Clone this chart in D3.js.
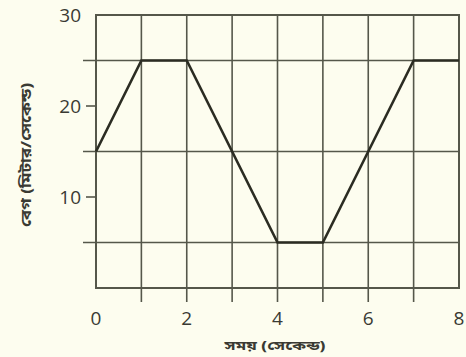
<!DOCTYPE html>
<html><head><meta charset="utf-8">
<script src="https://cdn.jsdelivr.net/npm/d3@7"></script>
<style>
html,body{margin:0;padding:0;background:#fdfdef;}
svg{display:block;}
</style></head>
<body>
<script>
const timeVals = [0, 1, 2, 4, 5, 7, 8];
const speedVals = [15, 25, 25, 5, 5, 25, 25];
const xTicks = [0, 2, 4, 6, 8];
const yTicks = [10, 20, 30];
const xGrid = [1, 2, 3, 4, 5, 6, 7];
const yGridLong = [5, 15, 25];
const yGridShort = [10, 20];
const xTitle = "সময় (সেকেন্ড)";
const yTitle = "বেগ (মিটার/সেকেন্ড)";

const W = 466, H = 357;
const m = {l: 96, r: 7, t: 15, b: 69};
const svg = d3.select("body").append("svg").attr("width", W).attr("height", H);
svg.append("rect").attr("width", W).attr("height", H).attr("fill", "#fdfdef");

const x = d3.scaleLinear().domain([0, 8]).range([m.l, W - m.r]);
const y = d3.scaleLinear().domain([0, 30]).range([H - m.b, m.t]);
const gridColor = "#55574a";

svg.selectAll(".vg").data(xGrid).join("line")
  .attr("x1", d => x(d)).attr("x2", d => x(d))
  .attr("y1", y(30)).attr("y2", y(0) + 14)
  .attr("stroke", gridColor).attr("stroke-width", 1.6);

svg.selectAll(".hg").data(yGridLong).join("line")
  .attr("x1", x(0) - 13).attr("x2", x(8))
  .attr("y1", d => y(d)).attr("y2", d => y(d))
  .attr("stroke", gridColor).attr("stroke-width", 1.6);

svg.selectAll(".ht").data(yGridShort).join("line")
  .attr("x1", x(0) - 10).attr("x2", x(0))
  .attr("y1", d => y(d)).attr("y2", d => y(d))
  .attr("stroke", gridColor).attr("stroke-width", 1.6);

svg.append("rect")
  .attr("x", x(0)).attr("y", y(30))
  .attr("width", x(8) - x(0)).attr("height", y(0) - y(30))
  .attr("fill", "none").attr("stroke", gridColor).attr("stroke-width", 2);

const line = d3.line().x((d, i) => x(timeVals[i])).y(d => y(d));
svg.append("path").datum(speedVals)
  .attr("d", line).attr("fill", "none")
  .attr("stroke", "#2b2c22").attr("stroke-width", 2.6)
  .attr("stroke-linejoin", "miter");

svg.selectAll(".xl").data(xTicks).join("text")
  .attr("x", d => x(d)).attr("y", y(0) + 37)
  .attr("text-anchor", "middle")
  .attr("font-family", "Open Sans, DejaVu Sans, sans-serif").attr("font-size", 19)
  .attr("fill", "#3a3a33").text(d => d);

svg.selectAll(".yl").data(yTicks).join("text")
  .attr("x", x(0) - 15).attr("y", d => y(d) + 7)
  .attr("text-anchor", "end")
  .attr("font-family", "Open Sans, DejaVu Sans, sans-serif").attr("font-size", 19)
  .attr("fill", "#3a3a33").text(d => d);

svg.append("text")
  .attr("x", 275).attr("y", 347)
  .attr("text-anchor", "middle").attr("dominant-baseline", "middle")
  .attr("textLength", 101).attr("lengthAdjust", "spacingAndGlyphs")
  .attr("font-family", "Noto Sans Bengali, Noto Sans, sans-serif").attr("font-size", 13)
  .attr("font-weight", "bold").attr("fill", "#3a3a33").text(xTitle);

svg.append("text")
  .attr("transform", `translate(27, 155) rotate(-90)`)
  .attr("text-anchor", "middle").attr("dominant-baseline", "middle")
  .attr("textLength", 144).attr("lengthAdjust", "spacingAndGlyphs")
  .attr("font-family", "Noto Sans Bengali, Noto Sans, sans-serif").attr("font-size", 14)
  .attr("font-weight", "bold").attr("fill", "#3a3a33").text(yTitle);
</script>
</body></html>
